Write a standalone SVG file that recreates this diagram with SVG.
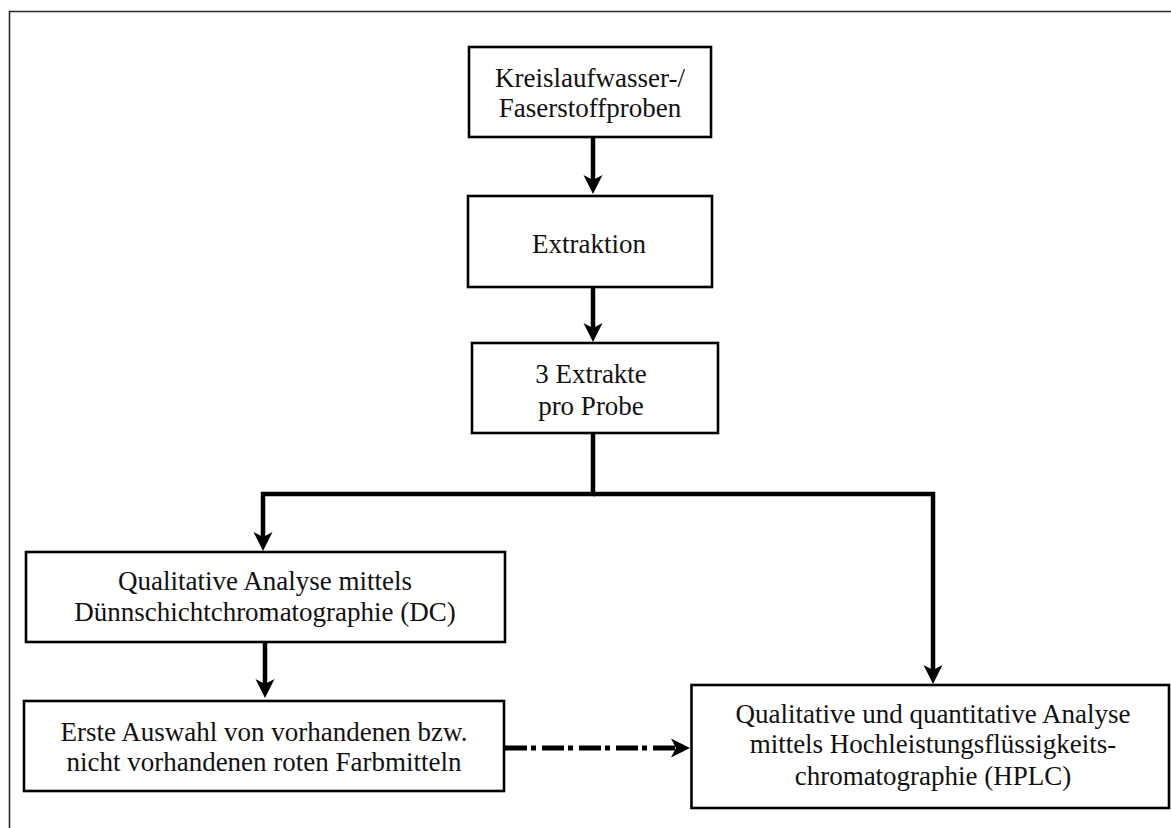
<svg xmlns="http://www.w3.org/2000/svg" width="1171" height="828" viewBox="0 0 1171 828">
  <style>
    .box { fill: #ffffff; stroke: #000000; stroke-width: 2.6; }
    .lbl { font-family: "Liberation Serif", "Times New Roman", serif; font-size: 27px; fill: #111111; text-anchor: middle; }
    .flow { fill: none; stroke: #000000; stroke-width: 4.5; stroke-linejoin: miter; }
    .dashflow { fill: none; stroke: #000000; stroke-width: 5; stroke-dasharray: 22 4 5 6; }
    .frame { fill: none; stroke: #2a2a2a; stroke-width: 1.6; }
  </style>
  <defs>
    <marker id="arrowhead" viewBox="-20 -10 21 20" refX="-10" refY="0" markerWidth="21" markerHeight="20" markerUnits="userSpaceOnUse" orient="auto">
      <path d="M0,0 L-19,-9.5 L-14,0 L-19,9.5 Z" fill="#000000"/>
    </marker>
  </defs>

  <rect x="0" y="0" width="1171" height="828" fill="#ffffff"/>
  <path class="frame" d="M9.5,828 V11.5 H1171"/>

  <g id="connectors">
    <path class="flow" d="M593,137 V184" marker-end="url(#arrowhead)"/>
    <path class="flow" d="M593,287 V332" marker-end="url(#arrowhead)"/>
    <path class="flow" d="M593,433 V494 H263 V541" marker-end="url(#arrowhead)"/>
    <path class="flow" d="M593,494 H933 V674" marker-end="url(#arrowhead)"/>
    <path class="flow" d="M265,642 V688" marker-end="url(#arrowhead)"/>
    <path class="dashflow" d="M505,748 H680" marker-end="url(#arrowhead)"/>
  </g>

  <g id="node-proben">
    <rect class="box" x="469" y="47" width="242" height="90"/>
    <text class="lbl" x="590" y="87">Kreislaufwasser-/</text>
    <text class="lbl" x="590" y="117">Faserstoffproben</text>
  </g>

  <g id="node-extraktion">
    <rect class="box" x="468" y="196" width="244" height="91"/>
    <text class="lbl" x="589" y="253">Extraktion</text>
  </g>

  <g id="node-extrakte">
    <rect class="box" x="472" y="343" width="246" height="90"/>
    <text class="lbl" x="591" y="383">3 Extrakte</text>
    <text class="lbl" x="591" y="415">pro Probe</text>
  </g>

  <g id="node-dc">
    <rect class="box" x="26" y="552" width="479" height="90"/>
    <text class="lbl" x="265" y="590">Qualitative Analyse mittels</text>
    <text class="lbl" x="265" y="621">Dünnschichtchromatographie (DC)</text>
  </g>

  <g id="node-auswahl">
    <rect class="box" x="24" y="701" width="480" height="90"/>
    <text class="lbl" x="264" y="741">Erste Auswahl von vorhandenen bzw.</text>
    <text class="lbl" x="264" y="771">nicht vorhandenen roten Farbmitteln</text>
  </g>

  <g id="node-hplc">
    <rect class="box" x="691.5" y="685" width="477.5" height="123"/>
    <text class="lbl" x="933" y="723">Qualitative und quantitative Analyse</text>
    <text class="lbl" x="933" y="753">mittels Hochleistungsflüssigkeits-</text>
    <text class="lbl" x="933" y="785">chromatographie (HPLC)</text>
  </g>
</svg>
